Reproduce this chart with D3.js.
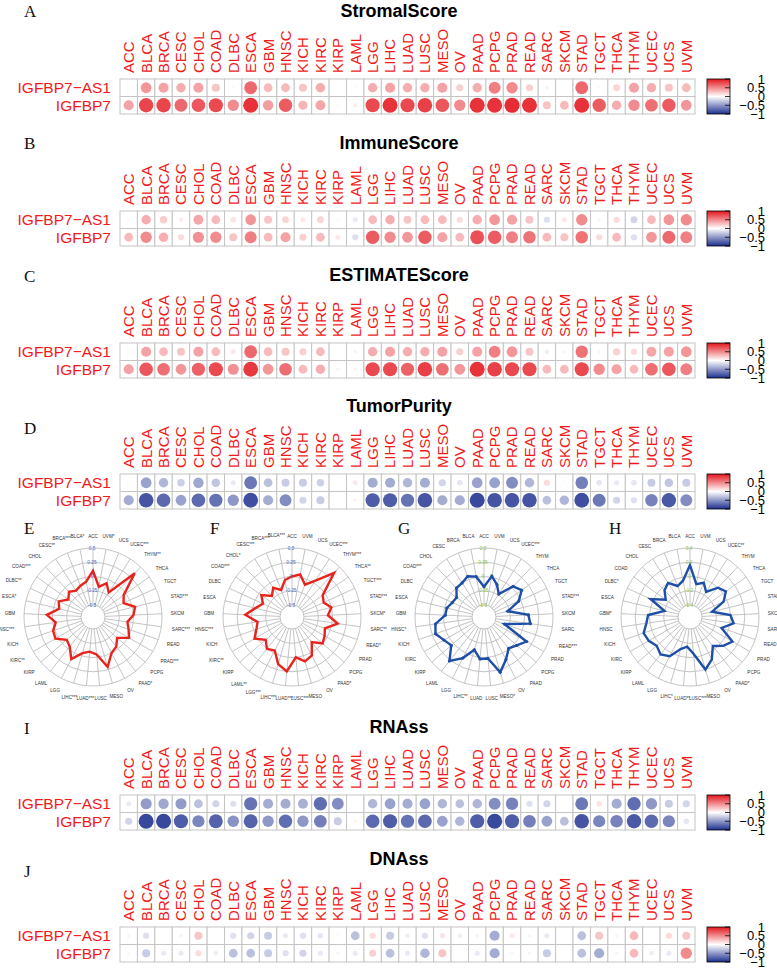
<!DOCTYPE html>
<html><head><meta charset="utf-8">
<script src="https://cdn.jsdelivr.net/npm/d3@7"></script>
<style>body{margin:0;background:#fff}svg{display:block}</style>
</head><body>
<svg id="c" width="777" height="968"></svg>
<script>
// ---------- DATA ----------
const cancers = ["ACC","BLCA","BRCA","CESC","CHOL","COAD","DLBC","ESCA","GBM","HNSC","KICH","KIRC","KIRP","LAML","LGG","LIHC","LUAD","LUSC","MESO","OV","PAAD","PCPG","PRAD","READ","SARC","SKCM","STAD","TGCT","THCA","THYM","UCEC","UCS","UVM"];
const rowNames = ["IGFBP7\u2212AS1","IGFBP7"];

const stromalAS1 = [0.03,0.45,0.4,0.35,0.4,0.25,0.03,0.65,0.3,0.3,0.25,0.35,0.0,-0.03,0.35,0.4,0.35,0.35,0.4,0.2,0.35,0.55,0.5,0.2,-0.05,0.01,0.65,-0.03,0.18,0.4,0.35,0.25,0.3];
const stromalIGF = [0.4,0.8,0.8,0.65,0.72,0.78,0.5,0.88,0.42,0.7,0.32,0.38,0.03,0.08,0.78,0.88,0.78,0.82,0.72,0.5,0.88,0.88,0.9,0.88,0.25,0.3,0.88,0.7,0.35,0.5,0.62,0.7,0.45];
const immuneAS1 = [0.02,0.35,0.22,0.08,0.38,0.3,0.12,0.45,0.25,0.18,0.1,0.18,0.03,-0.1,0.3,0.35,0.25,0.3,0.3,0.15,0.35,0.45,0.4,0.25,-0.15,0.1,0.5,0.05,0.15,-0.2,0.3,0.45,0.5];
const immuneIGF = [0.3,0.5,0.35,0.15,0.48,0.5,0.25,0.55,0.3,0.4,0.2,0.3,0.1,-0.15,0.7,0.5,0.45,0.7,0.4,0.3,0.75,0.7,0.55,0.6,0.3,0.25,0.6,0.15,0.3,-0.15,0.45,0.65,0.55];
const estimateAS1 = [0.02,0.4,0.3,0.25,0.4,0.3,0.1,0.65,0.3,0.25,0.2,0.3,0.02,-0.05,0.35,0.4,0.35,0.35,0.4,0.2,0.4,0.55,0.45,0.25,-0.08,0.05,0.6,0.05,0.2,0.15,0.38,0.4,0.45];
const estimateIGF = [0.4,0.72,0.62,0.45,0.68,0.78,0.48,0.85,0.45,0.62,0.3,0.35,0.05,0.05,0.78,0.78,0.68,0.82,0.62,0.45,0.88,0.82,0.78,0.78,0.3,0.3,0.78,0.5,0.4,0.3,0.62,0.72,0.55];
const purityAS1 = [0.0,-0.45,-0.35,-0.22,-0.42,-0.28,-0.1,-0.65,-0.3,-0.25,-0.25,-0.22,0.0,0.1,-0.4,-0.4,-0.35,-0.4,-0.2,-0.12,-0.45,-0.45,-0.55,-0.35,0.15,0.03,-0.62,-0.12,-0.1,-0.12,-0.25,-0.28,-0.25];
const purityIGF = [-0.4,-0.82,-0.72,-0.45,-0.72,-0.68,-0.5,-0.85,-0.4,-0.55,-0.2,-0.25,0.02,0.05,-0.78,-0.78,-0.68,-0.82,-0.4,-0.4,-0.88,-0.82,-0.82,-0.82,-0.3,-0.35,-0.85,-0.65,-0.2,-0.15,-0.6,-0.8,-0.55];
const rnaAS1 = [-0.1,-0.48,-0.42,-0.48,-0.3,-0.2,-0.15,-0.68,-0.4,-0.4,-0.38,-0.7,-0.55,0.0,-0.35,-0.45,-0.4,-0.45,-0.35,-0.3,-0.35,-0.55,-0.6,-0.15,-0.2,0.0,-0.65,0.12,-0.4,-0.7,-0.5,-0.25,-0.2];
const rnaIGF = [-0.2,-0.88,-0.88,-0.78,-0.58,-0.75,-0.52,-0.75,-0.5,-0.7,-0.5,-0.62,-0.25,0.05,-0.72,-0.78,-0.68,-0.72,-0.45,-0.35,-0.78,-0.88,-0.78,-0.62,-0.45,-0.3,-0.82,-0.58,-0.6,-0.8,-0.72,-0.58,-0.12];
const dnaAS1 = [0.05,-0.15,0.02,-0.05,0.25,0.0,-0.15,-0.2,-0.25,-0.1,-0.15,-0.12,0.03,-0.3,0.15,-0.25,-0.08,-0.15,0.12,-0.08,-0.05,-0.4,0.1,0.05,-0.1,0.0,-0.3,0.25,0.05,0.3,0.0,0.15,0.25];
const dnaIGF = [0.03,-0.25,-0.1,-0.1,0.15,-0.08,-0.3,-0.3,-0.25,-0.15,-0.2,-0.1,-0.05,-0.1,0.2,-0.3,-0.1,-0.35,0.25,0.0,-0.1,-0.4,0.05,-0.05,-0.25,0.0,-0.3,-0.4,0.05,0.3,-0.08,-0.1,0.5];

const legendTicks = [1,0.5,0,-0.5,-1];
const legendLabels = ["1","0.5","0","\u22120.5","\u22121"];

// radar categories, clockwise from top
const radarCats = ["ACC","UVM","UCS","UCEC","THYM","THCA","TGCT","STAD","SKCM","SARC","READ","PRAD","PCPG","PAAD","OV","MESO","LUSC","LUAD","LIHC","LGG","LAML","KIRP","KIRC","KICH","HNSC","GBM","ESCA","DLBC","COAD","CHOL","CESC","BRCA","BLCA"];
const radarE = [0.1,-0.17,-0.07,-0.2,0.35,-0.05,-0.12,0.05,0.0,-0.1,-0.05,0.02,-0.15,-0.05,0.0,0.2,-0.05,-0.1,-0.05,0.12,-0.05,-0.1,0.05,0.03,-0.05,0.1,-0.1,-0.05,-0.18,-0.1,-0.16,-0.12,-0.08];
const starsE = ["","*","","***","**","","","***","","***","","***","","*","","","","***","***","","","","**","","***","","*","**","***","","**","***","*"];
const radarF = [0.0,0.05,-0.1,0.05,0.36,-0.05,-0.1,0.0,-0.08,0.1,-0.1,-0.05,0.0,-0.15,0.05,0.1,0.0,0.25,0.15,-0.05,0.0,-0.1,0.05,-0.05,-0.1,0.11,-0.05,-0.15,-0.05,-0.2,-0.1,-0.2,-0.05];
const starsF = ["","","","***","***","**","***","***","*","**","*","","","*","","","***","***","***","***","**","","**","","***","","","","***","*","***","***","***"];
const radarG = [-0.18,0.02,-0.1,-0.23,0.03,0.1,-0.04,-0.28,0.07,0.11,-0.33,0.15,0.05,-0.01,0.13,0.3,0.02,0.03,-0.11,0.1,0.27,0.05,0.1,0.19,0.15,-0.03,-0.04,-0.1,-0.12,-0.01,0.0,0.06,0.01];
const starsG = ["","","","***","","","","***","","","***","","","","","*","","","**","","","","","","*","","","","***","","","",""];
const radarH = [0.16,-0.1,-0.05,-0.15,0.0,0.05,-0.05,-0.25,0.0,0.05,-0.1,0.12,0.05,-0.05,0.1,0.2,-0.05,-0.15,-0.1,0.05,0.1,0.05,0.1,0.12,0.05,0.02,-0.2,0.04,-0.15,-0.05,0.0,-0.1,-0.05];
const starsH = ["","","","**","","","","***","","","","","","*","","","***","**","*","","","","","","","*","","*","","","","",""];
const radarTicksA = [-0.5,-0.25,0,0.25,0.5];
const radarTicksB = [-0.4,-0.2,0,0.2,0.4];
const radarTickLabelsA = ["-0.5","-0.25","0","0.25","0.5"];
const radarTickLabelsB = ["-0.4","-0.2","0","0.2","0.4"];

// ---------- DRAW ----------
const svg = d3.select("#c");
const SANS = "'Liberation Sans', Arial, sans-serif";
const SERIF = "'Liberation Serif', 'Times New Roman', serif";
const x = d3.scaleBand().domain(cancers).range([120, 695]);
const color = d3.scaleLinear().domain([-1,0,1]).range(["#1d2f8f","#ffffff","#e3161d"]);
const rad = d3.scaleSqrt().domain([0,1]).range([0, x.bandwidth()*0.46]);

const grad = svg.append("defs").append("linearGradient").attr("id","cb")
  .attr("x1",0).attr("y1",0).attr("x2",0).attr("y2",1);
legendTicks.forEach((v,i)=>grad.append("stop").attr("offset", i/(legendTicks.length-1)).attr("stop-color", color(v)));

function heatmap(p){
  const g = svg.append("g");
  const y = d3.scaleBand().domain(rowNames).range([p.top, p.top + 35]);
  g.append("text").attr("x",24).attr("y",p.letterY).text(p.letter)
    .attr("font-family",SERIF).attr("font-size",17).attr("fill","#111");
  g.append("text").attr("x",399).attr("y",p.top-62).attr("text-anchor","middle").text(p.title)
    .attr("font-family",SANS).attr("font-size",18).attr("font-weight","bold").attr("fill","#000");
  cancers.forEach(c=>{
    const cx = x(c) + x.bandwidth()/2 + 5.4, cy = p.top - 6;
    g.append("text").attr("transform",`translate(${cx},${cy}) rotate(-90)`).text(c)
      .attr("font-family",SANS).attr("font-size",15).attr("fill","#f01a1a");
  });
  const vals = [p.as1, p.igf];
  rowNames.forEach((rn,ri)=>{
    g.append("text").attr("x",111).attr("y",y(rn)+y.bandwidth()/2).attr("dy","0.36em")
      .attr("text-anchor","end").text(rn)
      .attr("font-family",SANS).attr("font-size",15.5).attr("fill","#f01a1a");
    cancers.forEach((c,ci)=>{
      g.append("rect").attr("x",x(c)).attr("y",y(rn)).attr("width",x.bandwidth()).attr("height",y.bandwidth())
        .attr("fill","#fff").attr("stroke","#c4c4c4").attr("stroke-width",1);
    });
  });
  rowNames.forEach((rn,ri)=>{
    cancers.forEach((c,ci)=>{
      const v = vals[ri][ci];
      g.append("circle").attr("cx",x(c)+x.bandwidth()/2).attr("cy",y(rn)+y.bandwidth()/2)
        .attr("r",rad(Math.abs(v))).attr("fill",color(v));
    });
  });
  // legend
  const lx = 707, lw = 23, lh = 35;
  const ly = d3.scaleLinear().domain([1,-1]).range([p.top, p.top+lh]);
  g.append("rect").attr("x",lx).attr("y",p.top).attr("width",lw).attr("height",lh)
    .attr("fill","url(#cb)").attr("stroke","#000").attr("stroke-width",0.8);
  legendTicks.forEach((t,i)=>{
    g.append("line").attr("x1",lx+lw-5).attr("x2",lx+lw).attr("y1",ly(t)).attr("y2",ly(t))
      .attr("stroke","#000").attr("stroke-width",0.8);
    g.append("text").attr("x",765).attr("y",ly(t)).attr("dy","0.36em").attr("text-anchor","end")
      .text(legendLabels[i]).attr("font-family",SANS).attr("font-size",13).attr("fill","#000");
  });
}

heatmap({letter:"A", letterY:17, title:"StromalScore", top:79, as1:stromalAS1, igf:stromalIGF});
heatmap({letter:"B", letterY:149, title:"ImmuneScore", top:211, as1:immuneAS1, igf:immuneIGF});
heatmap({letter:"C", letterY:282, title:"ESTIMATEScore", top:343, as1:estimateAS1, igf:estimateIGF});
heatmap({letter:"D", letterY:434, title:"TumorPurity", top:474, as1:purityAS1, igf:purityIGF});
heatmap({letter:"I", letterY:734, title:"RNAss", top:795, as1:rnaAS1, igf:rnaIGF});
heatmap({letter:"J", letterY:877, title:"DNAss", top:927, as1:dnaAS1, igf:dnaIGF});

function radar(p){
  svg.append("text").attr("x",p.lx).attr("y",534).text(p.letter)
    .attr("font-family",SERIF).attr("font-size",17).attr("fill","#111");
  const g = svg.append("g").attr("transform",`translate(${p.cx},617)`);
  const n = radarCats.length;
  const ang = d3.scaleLinear().domain([0,n]).range([0,2*Math.PI]);
  const r = d3.scaleLinear().domain([p.ticks[0], p.ticks[p.ticks.length-1]]).range([12,69]);
  p.ticks.forEach(t=>g.append("circle").attr("r",r(t)).attr("fill","none").attr("stroke","#bdbdbd").attr("stroke-width",0.9));
  radarCats.forEach((c,i)=>{
    const a = ang(i);
    g.append("line").attr("x1",Math.sin(a)*r(p.ticks[0])).attr("y1",-Math.cos(a)*r(p.ticks[0]))
      .attr("x2",Math.sin(a)*r(p.ticks[p.ticks.length-1])).attr("y2",-Math.cos(a)*r(p.ticks[p.ticks.length-1]))
      .attr("stroke","#bdbdbd").attr("stroke-width",0.9);
    const lab = c + p.stars[i];
    const w = lab.length*4.6*0.6;
    const rr = 79 + (w/2)*Math.abs(Math.sin(a)) + 2*Math.abs(Math.cos(a));
    g.append("text").attr("x",Math.sin(a)*rr).attr("y",-Math.cos(a)*rr).attr("dy","0.35em")
      .attr("text-anchor","middle").text(lab)
      .attr("font-family",SANS).attr("font-size",4.6).attr("fill","#333");
  });
  const line = d3.lineRadial().angle((d,i)=>ang(i)).radius(d=>r(d)).curve(d3.curveLinearClosed);
  g.append("path").datum(p.values).attr("d",line).attr("fill","none")
    .attr("stroke",p.color).attr("stroke-width",2.4).attr("stroke-linejoin","miter");
  if (p.dots) {
    p.values.forEach((v,i)=>{
      const a = ang(i);
      g.append("circle").attr("cx",Math.sin(a)*r(v)).attr("cy",-Math.cos(a)*r(v)).attr("r",1.6).attr("fill",p.color);
    });
  }
  p.ticks.forEach((t,i)=>{
    g.append("text").attr("x",-1).attr("y",-r(t)).attr("dy","0.35em").attr("text-anchor","middle")
      .text(p.tickLabels[i]).attr("font-family",SANS).attr("font-size",4.8).attr("fill",p.axisColor);
  });
}

radar({letter:"E", lx:24, cx:93, values:radarE, stars:starsE, color:"#e8231d", ticks:radarTicksA, tickLabels:radarTickLabelsA, axisColor:"#4a6cc8", dots:false});
radar({letter:"F", lx:210, cx:292, values:radarF, stars:starsF, color:"#e8231d", ticks:radarTicksA, tickLabels:radarTickLabelsA, axisColor:"#4a6cc8", dots:false});
radar({letter:"G", lx:398, cx:484, values:radarG, stars:starsG, color:"#1f4ea6", ticks:radarTicksA, tickLabels:radarTickLabelsA, axisColor:"#8cc63f", dots:true});
radar({letter:"H", lx:609, cx:690, values:radarH, stars:starsH, color:"#1f4ea6", ticks:radarTicksB, tickLabels:radarTickLabelsB, axisColor:"#8cc63f", dots:false});
</script>
</body></html>
